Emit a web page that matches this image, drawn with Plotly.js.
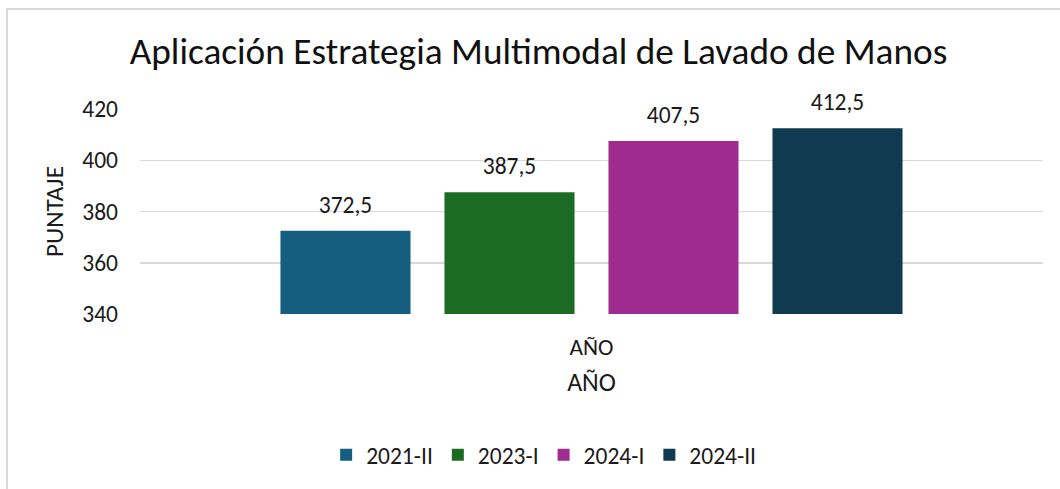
<!DOCTYPE html>
<html>
<head>
<meta charset="utf-8">
<script src="https://cdn.plot.ly/plotly-3.0.1.min.js"></script>
<style>
  html, body { margin: 0; padding: 0; background: #ffffff; }
  #chart { position: absolute; left: 0; top: 0; width: 1060px; height: 489px; }
  #frame { position: absolute; left: 6px; top: 8px; width: 1100px; height: 600px;
           border: 2px solid #d9d9d9; pointer-events: none; box-sizing: border-box; }
</style>
</head>
<body>
<div id="chart"></div>
<div id="frame"></div>
<script>
const category = ["AÑO"];
const seriesNames = ["2021-II", "2023-I", "2024-I", "2024-II"];
const seriesValues = [[372.5], [387.5], [407.5], [412.5]];
const seriesColors = ["#155E80", "#1C6B24", "#A02B90", "#0F3A4F"];
const yTicks = [340, 360, 380, 400, 420];

const FONT = "Carlito, Lato, 'Open Sans', sans-serif";
// tall invisible spacer glyphs enlarge the label box so it sits higher above the bar
const PAD = "<span style='font-size:56px'>\u00a0</span>";

const traces = seriesNames.map((name, i) => ({
  type: "bar",
  name: name,
  x: category,
  y: seriesValues[i],
  marker: { color: seriesColors[i] },
  texttemplate: PAD + "%{y:.1f}" + PAD,
  textposition: "outside",
  constraintext: "none",
  cliponaxis: false,
  textfont: { family: FONT, size: 23.5, color: "#1a1a1a" },
  hoverinfo: "skip"
}));

const layout = {
  width: 1060,
  height: 489,
  separators: ",.",
  paper_bgcolor: "#ffffff",
  plot_bgcolor: "#ffffff",
  font: { family: FONT, color: "#1a1a1a" },
  margin: { l: 140, r: 17, t: 109, b: 175 },
  barmode: "group",
  bargap: 0.2735,
  bargroupgap: 0.207,
  title: {
    text: "Aplicación Estrategia Multimodal de Lavado de Manos",
    font: { family: FONT, size: 37.3, color: "#111111" },
    x: 0.508, xanchor: "center",
    y: 0.895, yanchor: "middle", yref: "container"
  },
  xaxis: {
    type: "category",
    showgrid: false,
    showline: false,
    zeroline: false,
    ticks: "",
    ticklabelstandoff: 17,
    tickfont: { family: FONT, size: 23.3, color: "#1a1a1a" },
    title: { text: "AÑO", font: { family: FONT, size: 25.8, color: "#1a1a1a" }, standoff: 12 }
  },
  yaxis: {
    range: [340, 420],
    tickvals: yTicks,
    ticktext: yTicks.map(String),
    showgrid: true,
    gridcolor: "#d9d9d9",
    gridwidth: 1.5,
    zeroline: false,
    showline: false,
    ticks: "",
    ticklabelstandoff: 21,
    tickfont: { family: FONT, size: 23.5, color: "#1a1a1a" },
    title: { text: "PUNTAJE", font: { family: FONT, size: 25.2, color: "#1a1a1a" }, standoff: 11 }
  },
  showlegend: true,
  legend: {
    orientation: "h",
    x: 0.447, xanchor: "center",
    y: -0.688, yanchor: "middle",
    font: { family: FONT, size: 23.5, color: "#1a1a1a" },
    itemwidth: 30,
    traceorder: "normal"
  }
};

Plotly.newPlot("chart", traces, layout, { displayModeBar: false, staticPlot: true });
</script>
</body>
</html>
